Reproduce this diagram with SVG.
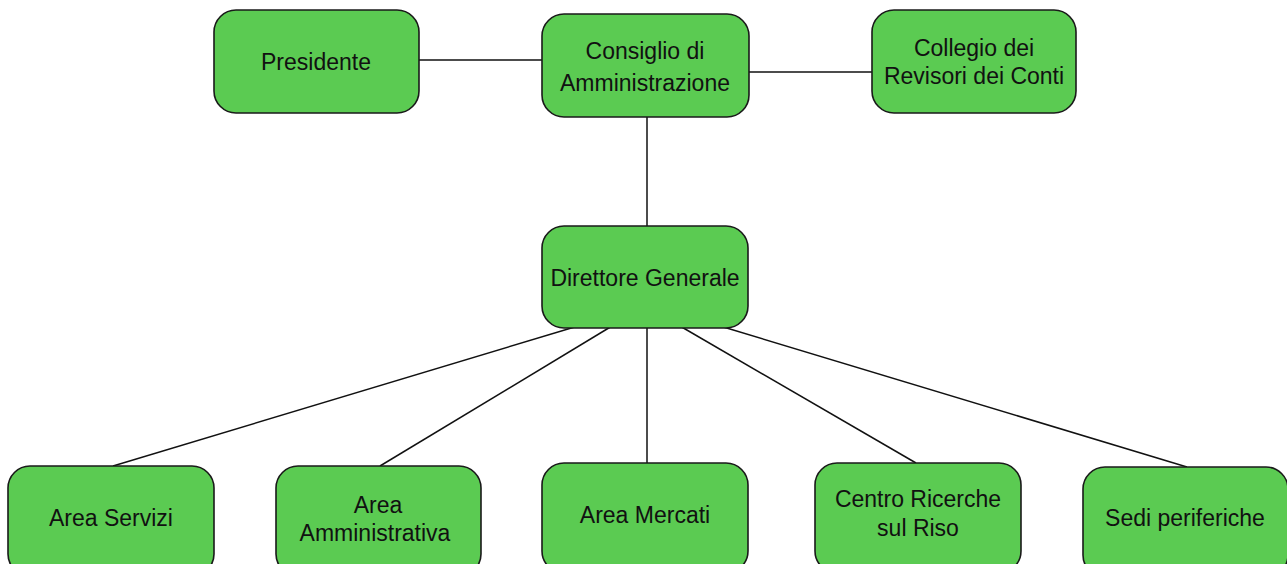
<svg xmlns="http://www.w3.org/2000/svg" width="1287" height="564" viewBox="0 0 1287 564">
<style>
.box{fill:#5bcb52;stroke:#1a1a1a;stroke-width:1.6}
.t{font-family:"Liberation Sans",Arial,sans-serif;font-size:23px;fill:#111;text-anchor:middle}
.c{stroke:#111;stroke-width:1.5;fill:none}
</style>
<rect width="1287" height="564" fill="#fff"/>
<g id="connectors">
<line class="c" x1="419" y1="60" x2="542" y2="60"/>
<line class="c" x1="749" y1="72" x2="872" y2="72"/>
<line class="c" x1="647" y1="117" x2="647" y2="226"/>
<line class="c" x1="578" y1="326" x2="113" y2="466"/>
<line class="c" x1="612" y1="326" x2="380" y2="466"/>
<line class="c" x1="647" y1="328" x2="647" y2="463"/>
<line class="c" x1="680" y1="326" x2="916" y2="463"/>
<line class="c" x1="720" y1="326" x2="1187" y2="467"/>
</g>
<g id="presidente"><rect class="box" x="214" y="10" width="205" height="103" rx="22"/><text class="t" x="316" y="70">Presidente</text></g>
<g id="consiglio"><rect class="box" x="542" y="14" width="207" height="103" rx="22"/><text class="t" x="645" y="59">Consiglio di</text><text class="t" x="645" y="91">Amministrazione</text></g>
<g id="collegio"><rect class="box" x="872" y="10" width="204" height="103" rx="22"/><text class="t" x="974" y="56">Collegio dei</text><text class="t" x="974" y="84">Revisori dei Conti</text></g>
<g id="direttore"><rect class="box" x="542" y="226" width="206" height="102" rx="22"/><text class="t" x="645" y="286">Direttore Generale</text></g>
<g id="servizi"><rect class="box" x="8" y="466" width="206" height="110" rx="22"/><text class="t" x="111" y="526">Area Servizi</text></g>
<g id="amministrativa"><rect class="box" x="276" y="466" width="205" height="110" rx="22"/><text class="t" x="378" y="513">Area</text><text class="t" x="375" y="541">Amministrativa</text></g>
<g id="mercati"><rect class="box" x="542" y="463" width="206" height="110" rx="22"/><text class="t" x="645" y="523">Area Mercati</text></g>
<g id="centro"><rect class="box" x="815" y="463" width="206" height="110" rx="22"/><text class="t" x="918" y="507">Centro Ricerche</text><text class="t" x="918" y="536">sul Riso</text></g>
<g id="sedi"><rect class="box" x="1083" y="467" width="205" height="110" rx="22"/><text class="t" x="1185" y="526">Sedi periferiche</text></g>
</svg>
